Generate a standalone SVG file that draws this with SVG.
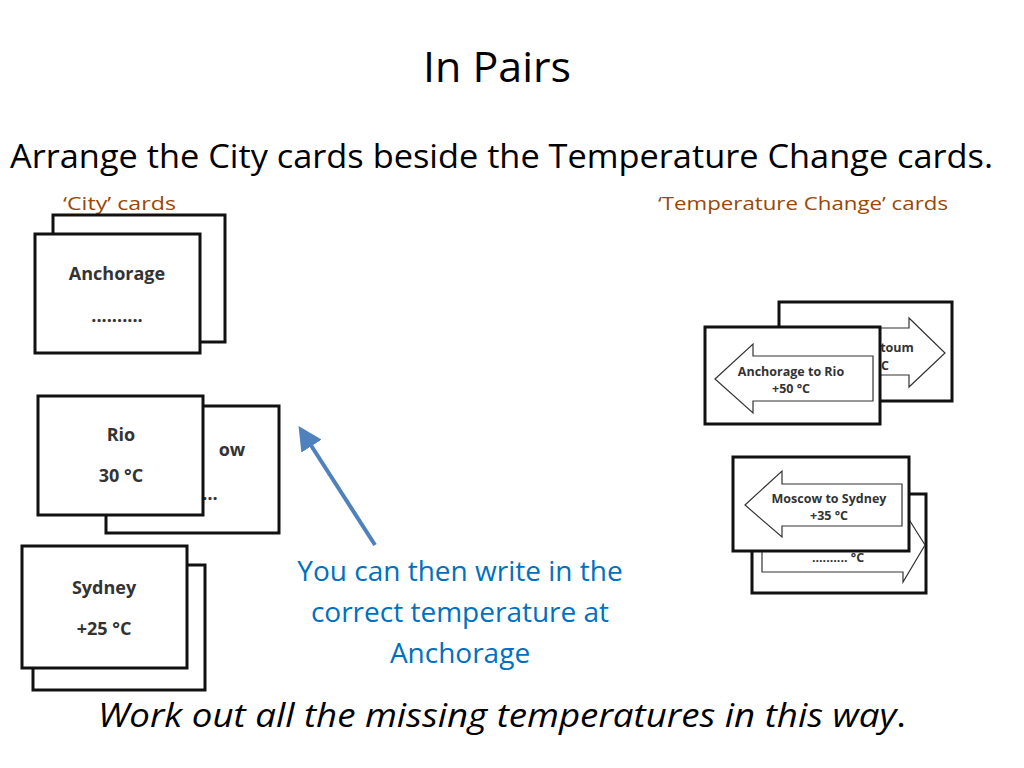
<svg xmlns="http://www.w3.org/2000/svg" width="1024" height="768" viewBox="0 0 1024 768">
<defs>
<style>
.card{fill:#fff;stroke:#111;stroke-width:3}
.arr{fill:#fff;stroke:#333;stroke-width:1.2}
.ct{font-family:"Open Sans","Liberation Sans",sans-serif;font-weight:bold;font-size:18px;fill:#333;text-anchor:middle}
.at{font-family:"Open Sans","Liberation Sans",sans-serif;font-weight:bold;font-size:12.5px;fill:#333;text-anchor:middle}
.lbl{font-family:"Open Sans","Liberation Sans",sans-serif;font-size:19px;fill:#984807}
.big{font-family:"Open Sans","Liberation Sans",sans-serif;fill:#000}
.blue{font-family:"Open Sans","Liberation Sans",sans-serif;font-size:28px;fill:#0070c0;text-anchor:middle}
</style>
<marker id="ah" markerWidth="6" markerHeight="6" refX="3" refY="3" orient="auto" markerUnits="strokeWidth"><path d="M0,0 L6,3 L0,6 Z" fill="#4f81bd"/></marker>
</defs>
<rect width="1024" height="768" fill="#fff"/>
<text x="497" y="82" class="big" font-size="42" text-anchor="middle" textLength="148" lengthAdjust="spacingAndGlyphs">In Pairs</text>
<text x="10" y="168" class="big" font-size="33" textLength="983" lengthAdjust="spacingAndGlyphs">Arrange the City cards beside the Temperature Change cards.</text>
<text x="63" y="210" class="lbl" textLength="113" lengthAdjust="spacingAndGlyphs">‘City’ cards</text>
<text x="658" y="210" class="lbl" textLength="290" lengthAdjust="spacingAndGlyphs">‘Temperature Change’ cards</text>

<g id="anchorage">
<rect class="card" x="53" y="215" width="172" height="127"/>
<rect class="card" x="35" y="234" width="165" height="119"/>
<text x="117" y="280" class="ct">Anchorage</text>
<text x="117" y="322" class="ct">..........</text>
</g>
<g id="moscow-rio">
<rect class="card" x="106" y="406" width="173" height="127"/>
<text x="232" y="456" class="ct">ow</text>
<text x="210" y="500" class="ct">…</text>
<rect class="card" x="38" y="396" width="165" height="119"/>
<text x="121" y="441" class="ct">Rio</text>
<text x="121" y="482" class="ct">30 °C</text>
</g>
<g id="sydney">
<rect class="card" x="33" y="565" width="172" height="125"/>
<rect class="card" x="22" y="546" width="165" height="122"/>
<text x="104" y="594" class="ct">Sydney</text>
<text x="104" y="635" class="ct">+25 °C</text>
</g>

<g id="khartoum-anchorage">
<rect class="card" x="779" y="302" width="173" height="99"/>
<polygon class="arr" points="790,328 909,328 909,318 945,353 909,387 909,375 790,375"/>
<text x="897" y="352" class="at">toum</text>
<text x="885" y="370" class="at">C</text>
<rect class="card" x="705" y="327" width="175" height="97"/>
<polygon class="arr" points="715,379 753,344 753,356 873,356 873,401 753,401 753,413"/>
<text x="791" y="376" class="at">Anchorage to Rio</text>
<text x="791" y="393" class="at">+50 °C</text>
</g>
<g id="sydney-moscow">
<rect class="card" x="752" y="494" width="174" height="99"/>
<polygon class="arr" points="762,548 903,548 903,510 925,545 903,582 903,572 762,572"/>
<text x="838" y="562" class="at">.......... °C</text>
<rect class="card" x="733" y="457" width="176" height="94"/>
<polygon class="arr" points="745,505 782,471 782,484 902,484 902,526 782,526 782,537"/>
<text x="829" y="503" class="at">Moscow to Sydney</text>
<text x="829" y="520" class="at">+35 °C</text>
</g>

<g id="connectors">
<line x1="375" y1="545" x2="305" y2="436" stroke="#4f81bd" stroke-width="4" marker-end="url(#ah)"/>
</g>
<text class="blue"><tspan x="460" y="581">You can then write in the</tspan><tspan x="460" y="622">correct temperature at</tspan><tspan x="460" y="663">Anchorage</tspan></text>
<text x="98" y="727" class="big" font-size="33" font-style="italic" textLength="808" lengthAdjust="spacingAndGlyphs">Work out all the missing temperatures in this way<tspan font-style="normal">.</tspan></text>
</svg>
